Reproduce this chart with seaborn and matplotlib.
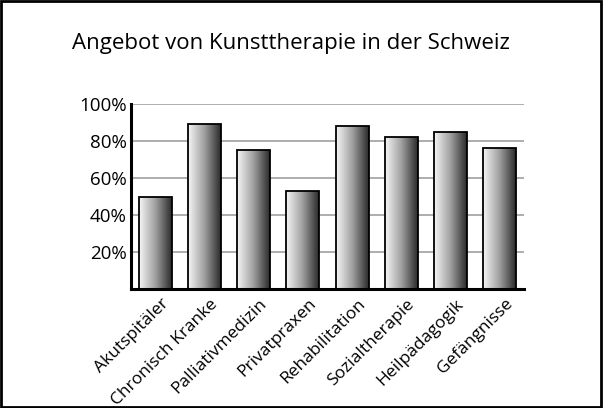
import numpy as np
import pandas as pd
import seaborn as sns
import matplotlib
matplotlib.use("Agg")
import matplotlib.pyplot as plt
import matplotlib.transforms as mtransforms
from matplotlib.patches import Rectangle

# Daten
kategorien = ["Akutspitäler", "Chronisch Kranke", "Palliativmedizin", "Privatpraxen",
              "Rehabilitation", "Sozialtherapie", "Heilpädagogik", "Gefängnisse"]
anteile = [50, 89, 75, 53, 88, 82, 85, 76]
y_ticks = [20, 40, 60, 80, 100]
y_labels = ["20%", "40%", "60%", "80%", "100%"]

sns.set_style("white")
plt.rcParams["font.family"] = ["Open Sans", "DejaVu Sans"]
plt.rcParams["text.color"] = "black"
plt.rcParams["xtick.color"] = "black"
plt.rcParams["ytick.color"] = "black"

df = pd.DataFrame({"kategorie": kategorien, "anteil": anteile})

fig = plt.figure(figsize=(6.03, 4.08), dpi=100)
ax = fig.add_axes([131 / 603, 1 - 289 / 408, 393 / 603, 185 / 408])

sns.barplot(data=df, x="kategorie", y="anteil", ax=ax, width=0.67,
            color="#888888", edgecolor="black", linewidth=1.3, zorder=3)

# Verlauf hell -> dunkel in jedem Balken
grad = np.linspace(0, 1, 256).reshape(1, -1)
cmap = matplotlib.colors.LinearSegmentedColormap.from_list(
    "g", ["#f6f6f6", "#a0a0a0", "#2a2a2a"])
for p in ax.patches:
    x0, y0 = p.get_x(), p.get_y()
    w, h = p.get_width(), p.get_height()
    im = ax.imshow(grad, extent=[x0, x0 + w, y0, y0 + h], aspect="auto",
                   cmap=cmap, zorder=3.5)
    im.set_clip_path(p)
    p.set_facecolor("none")
    p.set_zorder(4)

ax.set_xlim(-0.5, len(kategorien) - 0.5)
ax.set_ylim(0, 100)
ax.set_yticks(y_ticks)
ax.set_yticklabels(y_labels, fontsize=13.5)
ax.set_xticks(range(len(kategorien)))
ax.set_xticklabels(kategorien, rotation=45, ha="right", rotation_mode="anchor",
                   fontsize=12.5)
ax.tick_params(axis="both", length=0, pad=3)
ax.tick_params(axis="x", pad=5)
offset = mtransforms.ScaledTranslation(5 / 100, 0, fig.dpi_scale_trans)
for lbl in ax.get_xticklabels():
    lbl.set_transform(lbl.get_transform() + offset)
ax.set_xlabel("")
ax.set_ylabel("")
ax.yaxis.grid(True, color="#a0a0a0", linewidth=1.2, zorder=0)
ax.set_axisbelow(True)
for s in ["top", "right"]:
    ax.spines[s].set_visible(False)
for s in ["left", "bottom"]:
    ax.spines[s].set_color("black")
    ax.spines[s].set_linewidth(2.2)
    ax.spines[s].set_zorder(5)

fig.text(72 / 603, 1 - 44 / 408, "Angebot von Kunsttherapie in der Schweiz",
         fontsize=16, va="center", ha="left")

fig.patches.append(Rectangle((0.002, 0.003), 0.995, 0.994, transform=fig.transFigure,
                             fill=False, edgecolor="black", linewidth=2))

fig.savefig("out.png", dpi=100)
